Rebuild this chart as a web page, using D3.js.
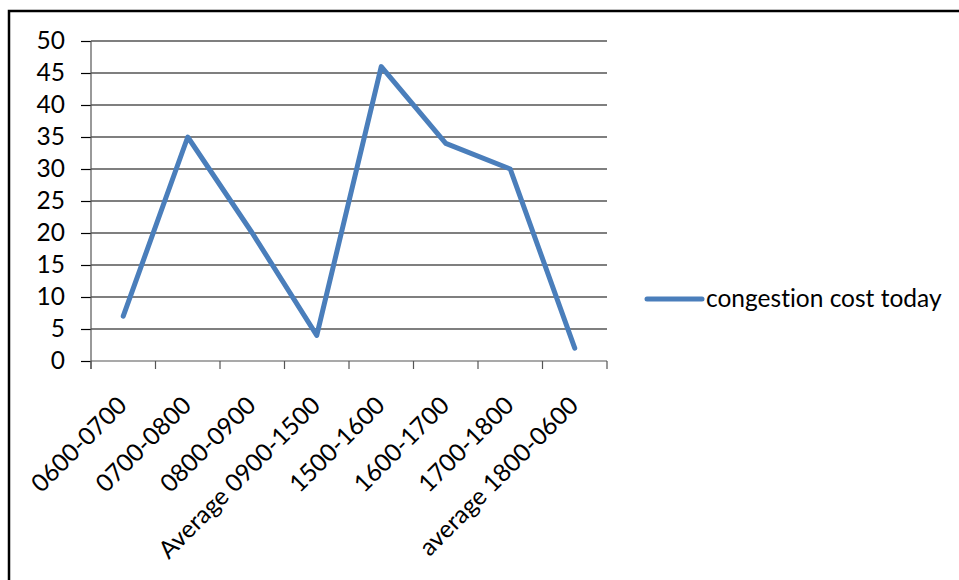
<!DOCTYPE html>
<html>
<head>
<meta charset="utf-8">
<script src="https://cdn.jsdelivr.net/npm/d3@7"></script>
<style>
  html, body { margin: 0; padding: 0; background: #fff; }
  svg { display: block; }
  text { font-family: Lato, "Open Sans", sans-serif; fill: #000; font-variant-ligatures: none; }
</style>
</head>
<body>
<svg id="chart" width="959" height="580"></svg>
<script>
// Congestion cost by time period
const categories = ["0600-0700", "0700-0800", "0800-0900", "Average 0900-1500",
                    "1500-1600", "1600-1700", "1700-1800", "average 1800-0600"];
const congestionCost = [7, 35, 20, 4, 46, 34, 30, 2];
const yTicks = [0, 5, 10, 15, 20, 25, 30, 35, 40, 45, 50];
const seriesName = "congestion cost today";

const svg = d3.select("#chart");
const plot = { left: 91, right: 607, top: 41, bottom: 361 };
const lineColor = "#4a7ebb";
const fontSize = 24.5;

// outer frame (runs off the right and bottom edges)
svg.append("rect")
  .attr("x", 9).attr("y", 11)
  .attr("width", 1000).attr("height", 1000)
  .attr("fill", "none").attr("stroke", "#000").attr("stroke-width", 2.5);

const x = d3.scaleBand().domain(categories).range([plot.left, plot.right]);
const y = d3.scaleLinear().domain([0, 50]).range([plot.bottom, plot.top]);

// horizontal gridlines
svg.append("g")
  .selectAll("line")
  .data(yTicks.filter(d => d > 0))
  .join("line")
  .attr("x1", plot.left).attr("x2", plot.right)
  .attr("y1", d => y(d)).attr("y2", d => y(d))
  .attr("stroke", "#000").attr("stroke-width", 1.2);

// y axis
const yAxis = svg.append("g")
  .attr("transform", `translate(${plot.left},0)`)
  .call(d3.axisLeft(y).tickValues(yTicks).tickSize(10).tickPadding(16).tickFormat(d3.format("d")));
yAxis.select(".domain").remove();
yAxis.append("line")
  .attr("y1", plot.top).attr("y2", plot.bottom + 8)
  .attr("stroke", "#555").attr("stroke-width", 1.2);
yAxis.selectAll(".tick line").attr("stroke", "#000").attr("stroke-width", 1.2);
yAxis.selectAll(".tick text")
  .attr("font-size", fontSize).attr("font-family", "Lato, 'Open Sans', sans-serif")
  .attr("fill", "#000");

// x axis with ticks on category boundaries
const xAxisG = svg.append("g").attr("transform", `translate(0,${plot.bottom})`);
xAxisG.append("line")
  .attr("x1", plot.left).attr("x2", plot.right)
  .attr("stroke", "#555").attr("stroke-width", 1.2);
const boundaries = categories.map(c => x(c)).concat([plot.right]);
xAxisG.selectAll("line.tk")
  .data(boundaries)
  .join("line").attr("class", "tk")
  .attr("x1", d => d).attr("x2", d => d)
  .attr("y1", 0).attr("y2", 8)
  .attr("stroke", "#555").attr("stroke-width", 1.2);
xAxisG.selectAll("text")
  .data(categories)
  .join("text")
  .attr("transform", d => `translate(${x(d) + x.bandwidth() / 2 + 5},${46}) rotate(-45)`)
  .attr("text-anchor", "end")
  .attr("font-size", fontSize)
  .text(d => d);

// series line
const line = d3.line()
  .x((d, i) => x(categories[i]) + x.bandwidth() / 2)
  .y(d => y(d));
svg.append("path")
  .datum(congestionCost)
  .attr("d", line)
  .attr("fill", "none")
  .attr("stroke", lineColor)
  .attr("stroke-width", 5)
  .attr("stroke-linejoin", "round")
  .attr("stroke-linecap", "round");

// legend
const legend = svg.append("g").attr("transform", "translate(647,299)");
legend.append("line")
  .attr("x1", 0).attr("x2", 55)
  .attr("stroke", lineColor).attr("stroke-width", 5).attr("stroke-linecap", "round");
legend.append("text")
  .attr("x", 59).attr("y", 8)
  .attr("font-size", fontSize)
  .text(seriesName);
</script>
</body>
</html>
